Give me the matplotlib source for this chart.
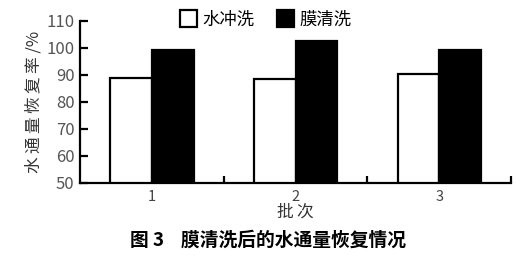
import numpy as np
import matplotlib
matplotlib.use("Agg")
from matplotlib import pyplot as plt
from matplotlib.ticker import FixedLocator

plt.rcParams['font.family'] = ['Noto Sans CJK SC', 'DejaVu Sans']

batches = ['1', '2', '3']
water_wash = [88.8, 88.3, 90.3]      # 水冲洗
membrane_wash = [99.2, 102.6, 99.4]  # 膜清洗

fig = plt.figure(figsize=(5.28, 2.58), dpi=100)
ax = fig.add_axes([0.1515, 0.291, 0.8165, 0.628])

x = np.arange(1, len(batches) + 1)
w = 0.29
ax.bar(x - w / 2, water_wash, w, color='white', edgecolor='black',
       linewidth=1.6, label='水冲洗')
ax.bar(x + w / 2, membrane_wash, w, color='black', edgecolor='black',
       linewidth=1.6, label='膜清洗')

ax.set_ylim(50, 110)
ax.set_xlim(0.5, 3.5)
ax.set_yticks(np.arange(50, 111, 10))
ax.set_xticks(x)
ax.set_xticklabels(batches)
ax.xaxis.set_minor_locator(FixedLocator([1.5, 2.5, 3.5]))

ax.spines['top'].set_visible(False)
ax.spines['right'].set_visible(False)
for s in ['left', 'bottom']:
    ax.spines[s].set_linewidth(1.6)

ax.tick_params(axis='y', direction='in', length=6, width=1.6,
               labelsize=12, labelcolor='#555555', pad=4)
ax.tick_params(axis='x', which='major', length=0, labelsize=10.5,
               labelcolor='#444444', pad=5)
ax.tick_params(axis='x', which='minor', direction='in', length=5, width=1.6)

ax.set_ylabel('水\u2009通\u2009量\u2009恢\u2009复\u2009率 /%', fontsize=12,
              color='#333333', labelpad=3)
ax.set_xlabel('批\u2009次', fontsize=12, color='#333333', labelpad=0)

ax.legend(loc='upper left', bbox_to_anchor=(0.215, 1.11), ncol=2,
          frameon=False, fontsize=12.5, handlelength=1.0, handleheight=1.15,
          handletextpad=0.3, columnspacing=1.3, borderaxespad=0)

fig.text(0.508, 0.07, '图 3    膜清洗后的水通量恢复情况', ha='center', va='center',
         fontsize=13.5, fontweight='bold')

plt.savefig('out.png', dpi=100)
